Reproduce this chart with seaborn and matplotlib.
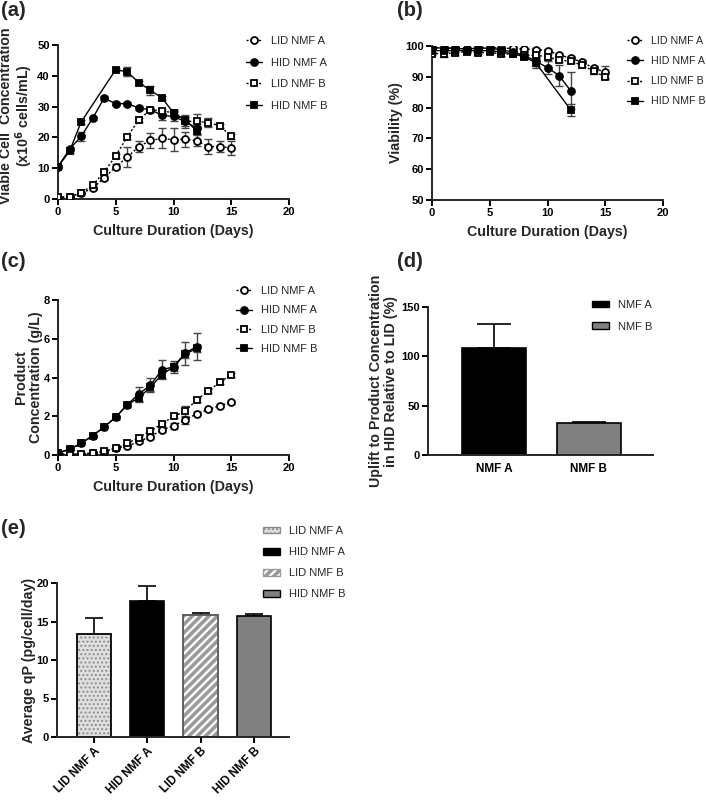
import numpy as np
import pandas as pd
import matplotlib
matplotlib.use("Agg")
import matplotlib.pyplot as plt
from matplotlib.patches import Patch, Rectangle
import seaborn as sns

# ---------------- data ----------------
days_lid = list(range(16))
days_hid = list(range(13))

# (a) viable cell concentration (x10^6 cells/mL)
vcc_lid_a = [0.3, 0.8, 1.8, 3.5, 6.8, 10.5, 13.6, 17.0, 19.0, 19.7, 19.2, 19.4, 18.9, 17.0, 17.0, 16.6]
vcc_lid_a_sd = [0.2, 0.2, 0.3, 0.5, 0.6, 0.8, 3.3, 1.8, 2.5, 3.3, 3.7, 2.5, 1.8, 2.5, 1.8, 2.3]
vcc_hid_a = [10.5, 16.2, 20.3, 26.2, 32.8, 30.9, 31.0, 29.5, 29.0, 27.2, 26.8, 25.2, 23.0]
vcc_hid_a_sd = [0.5, 0.6, 1.5, 0.5, 0.5, 0.5, 0.5, 0.6, 0.8, 1.5, 1.5, 1.5, 1.5]
vcc_lid_b = [0.5, 0.8, 2.0, 4.5, 8.8, 14.0, 20.2, 25.7, 29.0, 28.6, 28.0, 25.2, 25.2, 24.8, 23.8, 20.3]
vcc_lid_b_sd = [0.2, 0.2, 0.3, 0.5, 0.6, 0.6, 0.6, 0.6, 0.6, 0.6, 0.8, 2.0, 2.5, 1.5, 0.6, 0.8]
vcc_hid_b = [10.5, 15.5, 25.0, None, None, 42.0, 41.3, 37.8, 35.3, 32.8, 28.0, 25.7, 22.2]
vcc_hid_b_sd = [0.5, 0.6, 0.6, 0, 0, 0.6, 1.5, 0.6, 1.5, 0.6, 0.6, 0.8, 1.2]

# (b) viability (%)
via_lid_a = [99.5, 99.3, 99.3, 99.0, 99.5, 99.5, 99.3, 99.2, 99.0, 98.8, 98.5, 97.2, 96.0, 94.8, 92.8, 91.5]
via_lid_a_sd = [0.3, 0.4, 0.4, 0.3, 0.3, 0.3, 0.4, 0.4, 0.5, 0.5, 0.6, 0.6, 0.6, 0.6, 0.8, 2.0]
via_hid_a = [99.5, 99.3, 99.3, 99.0, 99.3, 99.3, 98.8, 98.0, 97.0, 95.0, 93.0, 90.4, 85.5]
via_hid_a_sd = [0.3, 0.4, 0.4, 0.3, 0.3, 0.3, 0.4, 0.5, 1.0, 1.5, 2.0, 3.5, 6.0]
via_lid_b = [97.5, 97.5, 97.8, 98.2, 97.8, 98.0, 97.3, 97.5, 97.0, 97.0, 96.5, 95.5, 95.0, 93.8, 91.8, 90.0]
via_lid_b_sd = [0.5, 1.0, 0.6, 0.4, 0.5, 0.4, 0.6, 0.5, 1.2, 0.6, 0.8, 0.6, 0.6, 0.6, 0.8, 0.8]
days_via_hid_b = [0, 1, 2, 3, 4, 5, 6, 7, 8, 9, 12]
via_hid_b = [98.5, 98.5, 98.5, 98.5, 98.5, 98.5, 98.0, 97.5, 96.5, 94.5, 79.3]
via_hid_b_sd = [0.4, 0.4, 0.4, 0.4, 0.4, 0.4, 0.4, 0.5, 0.8, 1.5, 2.0]

# (c) product concentration (g/L)
prod_lid_a = [0.05, 0.02, 0.03, 0.1, 0.18, 0.35, 0.45, 0.7, 0.95, 1.3, 1.5, 1.8, 2.13, 2.35, 2.55, 2.72]
prod_lid_a_sd = [0.02, 0.02, 0.02, 0.03, 0.03, 0.05, 0.05, 0.08, 0.1, 0.1, 0.15, 0.2, 0.08, 0.08, 0.08, 0.08]
prod_hid_a = [0.1, 0.3, 0.6, 1.0, 1.45, 1.95, 2.6, 3.15, 3.6, 4.4, 4.55, 5.25, 5.6]
prod_hid_a_sd = [0.03, 0.05, 0.05, 0.05, 0.05, 0.08, 0.1, 0.35, 0.35, 0.5, 0.3, 0.6, 0.7]
prod_lid_b = [0.05, 0.05, 0.05, 0.1, 0.2, 0.35, 0.6, 0.9, 1.25, 1.6, 2.0, 2.25, 2.85, 3.3, 3.75, 4.15]
prod_lid_b_sd = [0.02, 0.02, 0.02, 0.03, 0.03, 0.05, 0.05, 0.08, 0.1, 0.1, 0.1, 0.3, 0.1, 0.1, 0.1, 0.1]
prod_hid_b = [0.1, 0.3, 0.6, 1.0, 1.45, 1.95, 2.6, 2.95, 3.5, 4.15, 4.55, 5.2, 5.5]
prod_hid_b_sd = [0.03, 0.05, 0.05, 0.05, 0.05, 0.08, 0.1, 0.2, 0.2, 0.2, 0.2, 0.2, 0.2]

# (d) uplift (%)
uplift_groups = ["NMF A", "NMF B"]
uplift_vals = [108.5, 32.5]
uplift_sd = [24.0, 0.6]

# (e) average qP
qp_groups = ["LID NMF A", "HID NMF A", "LID NMF B", "HID NMF B"]
qp_vals = [13.4, 17.6, 15.85, 15.75]
qp_sd = [2.0, 2.0, 0.2, 0.2]

# ---------------- style ----------------
sns.set_theme(style="ticks")
plt.rcParams["font.family"] = ["Liberation Sans", "DejaVu Sans"]
plt.rcParams["font.weight"] = "bold"
plt.rcParams["axes.labelweight"] = "bold"
plt.rcParams["axes.linewidth"] = 1.4
plt.rcParams["xtick.major.width"] = 1.4
plt.rcParams["ytick.major.width"] = 1.4
plt.rcParams["xtick.major.size"] = 4
plt.rcParams["ytick.major.size"] = 4
plt.rcParams["hatch.linewidth"] = 1.0

TICKFS = 8
LABFS = 10.3
LEGFS = 8

W, H = 706, 801
fig = plt.figure(figsize=(W / 100, H / 100), dpi=100)


def rect(x0, x1, ytop, ybot):
    return [x0 / W, 1 - ybot / H, (x1 - x0) / W, (ybot - ytop) / H]


styles = {
    "LID NMF A": dict(marker="o", mfc="white", ls=(0, (1.5, 1.5))),
    "HID NMF A": dict(marker="o", mfc="black", ls="-"),
    "LID NMF B": dict(marker="s", mfc="white", ls=(0, (1.5, 1.5))),
    "HID NMF B": dict(marker="s", mfc="black", ls="-"),
}


def draw_series(ax, x, y, sd, name, ms=5.0):
    st = styles[name]
    df = pd.DataFrame({"x": x, "y": y, "sd": sd}).dropna()
    ax.errorbar(df["x"], df["y"], yerr=df["sd"], fmt="none", ecolor="#444444",
                elinewidth=1.0, capsize=3, capthick=1.0, zorder=2)
    sns.lineplot(data=df, x="x", y="y", ax=ax, color="black", linewidth=1.0,
                 linestyle=st["ls"], marker=st["marker"], markersize=ms,
                 markerfacecolor=st["mfc"], markeredgecolor="black",
                 markeredgewidth=1.3, label=name, zorder=3, sort=True)


def style_axes(ax, xr, yr=0.5):
    sns.despine(ax=ax)
    for lab in ax.get_xticklabels() + ax.get_yticklabels():
        lab.set_fontweight("bold")
    ax.tick_params(axis="both", labelsize=TICKFS, pad=2, colors="black")
    ax.yaxis.set_label_coords(xr, yr)


def line_legend(ax, x, y, spacing, fs=LEGFS):
    handles, labels = ax.get_legend_handles_labels()
    leg = ax.legend(handles, labels, loc="upper left", bbox_to_anchor=(x / W, 1 - y / H),
                    bbox_transform=fig.transFigure, frameon=False,
                    fontsize=fs, handlelength=1.45, handletextpad=0.8,
                    labelspacing=spacing, borderaxespad=0, borderpad=0)
    for t in leg.get_texts():
        t.set_fontweight("normal")
    return leg


def set_hlw(p, lw):
    if hasattr(p, "set_hatch_linewidth"):
        p.set_hatch_linewidth(lw)


# ---- (a)
ax_a = fig.add_axes(rect(58, 289, 45, 199))
draw_series(ax_a, days_lid, vcc_lid_a, vcc_lid_a_sd, "LID NMF A")
draw_series(ax_a, days_hid, vcc_hid_a, vcc_hid_a_sd, "HID NMF A")
draw_series(ax_a, days_lid, vcc_lid_b, vcc_lid_b_sd, "LID NMF B")
draw_series(ax_a, days_hid, vcc_hid_b, vcc_hid_b_sd, "HID NMF B")
ax_a.set_xlim(0, 20)
ax_a.set_ylim(0, 50)
ax_a.set_xticks([0, 5, 10, 15, 20])
ax_a.set_yticks([0, 10, 20, 30, 40, 50])
ax_a.set_xlabel("Culture Duration (Days)", fontsize=LABFS, fontweight="bold", labelpad=5)
ax_a.set_ylabel("Viable Cell  Concentration\n(x10$^{\\mathbf{6}}$ cells/mL)", fontsize=LABFS,
                fontweight="bold", linespacing=1.05)
style_axes(ax_a, (35 - 58) / 231, 0.54)
line_legend(ax_a, 246, 36, 1.05)

# ---- (b)
ax_b = fig.add_axes(rect(432, 663, 46, 200))
draw_series(ax_b, days_lid, via_lid_a, via_lid_a_sd, "LID NMF A")
draw_series(ax_b, days_hid, via_hid_a, via_hid_a_sd, "HID NMF A")
draw_series(ax_b, days_lid, via_lid_b, via_lid_b_sd, "LID NMF B")
draw_series(ax_b, days_via_hid_b, via_hid_b, via_hid_b_sd, "HID NMF B")
ax_b.set_xlim(0, 20)
ax_b.set_ylim(50, 100)
ax_b.set_xticks([0, 5, 10, 15, 20])
ax_b.set_yticks([50, 60, 70, 80, 90, 100])
ax_b.set_xlabel("Culture Duration (Days)", fontsize=LABFS, fontweight="bold", labelpad=5)
ax_b.set_ylabel("Viability (%)", fontsize=LABFS, fontweight="bold")
style_axes(ax_b, (403 - 432) / 231)
line_legend(ax_b, 627, 36, 0.95, fs=7.7)

# ---- (c)
ax_c = fig.add_axes(rect(58, 289, 300, 455))
draw_series(ax_c, days_lid, prod_lid_a, prod_lid_a_sd, "LID NMF A")
draw_series(ax_c, days_hid, prod_hid_a, prod_hid_a_sd, "HID NMF A")
draw_series(ax_c, days_lid, prod_lid_b, prod_lid_b_sd, "LID NMF B")
draw_series(ax_c, days_hid, prod_hid_b, prod_hid_b_sd, "HID NMF B")
ax_c.set_xlim(0, 20)
ax_c.set_ylim(0, 8)
ax_c.set_xticks([0, 5, 10, 15, 20])
ax_c.set_yticks([0, 2, 4, 6, 8])
ax_c.set_xlabel("Culture Duration (Days)", fontsize=LABFS, fontweight="bold", labelpad=5)
ax_c.set_ylabel("Product\nConcentration (g/L)", fontsize=LABFS, fontweight="bold",
                linespacing=1.05)
style_axes(ax_c, (43 - 58) / 231)
line_legend(ax_c, 236, 286, 0.85)

# ---- (d)
ax_d = fig.add_axes(rect(428, 653, 307, 455))
df_d = pd.DataFrame({"group": uplift_groups, "val": uplift_vals})
sns.barplot(data=df_d, x="group", y="val", hue="group", ax=ax_d,
            palette=["black", "#808080"], width=0.67, edgecolor="black",
            linewidth=1.2, legend=False, errorbar=None)
ax_d.errorbar(range(len(uplift_vals)), uplift_vals, yerr=[[0] * 2, uplift_sd],
              fmt="none", ecolor="black", elinewidth=1.2, capsize=12.5, capthick=1.2, zorder=0)
ax_d.set_ylim(0, 150)
ax_d.set_xlim(-0.695, 1.675)
ax_d.set_yticks([0, 50, 100, 150])
ax_d.set_xlabel("")
ax_d.set_ylabel("Uplift to Product Concentration\nin HID Relative to LID (%)",
                fontsize=LABFS, fontweight="bold", linespacing=1.05)
style_axes(ax_d, (398 - 428) / 225)
ax_d.tick_params(axis="x", length=0, pad=6, labelsize=8.5)
hd = [Patch(facecolor="black", edgecolor="black"), Patch(facecolor="#808080", edgecolor="black")]
leg = ax_d.legend(hd, uplift_groups, loc="upper left", bbox_to_anchor=(592 / W, 1 - 300 / H),
                  bbox_transform=fig.transFigure, frameon=False, fontsize=LEGFS,
                  handlelength=1.5, handleheight=0.55, handletextpad=0.8,
                  labelspacing=1.05, borderaxespad=0, borderpad=0)
for t in leg.get_texts():
    t.set_fontweight("normal")

# ---- (e)
ax_e = fig.add_axes(rect(57, 289, 583, 737))
df_e = pd.DataFrame({"group": qp_groups, "val": qp_vals})
e_colors = ["#dedede", "black", "white", "#808080"]
e_hatch = ["....", "", "////", ""]
e_hatch_col = ["#8a8a8a", "black", "#9a9a9a", "black"]
e_hatch_lw = [0.9, 1.0, 2.6, 1.0]
e_outline = ["black", "black", "#555555", "black"]
sns.barplot(data=df_e, x="group", y="val", hue="group", ax=ax_e,
            palette=e_colors, width=0.64, edgecolor="black", linewidth=1.2,
            legend=False, errorbar=None)
for p, h, hc, hl, oc in zip(list(ax_e.patches), e_hatch, e_hatch_col, e_hatch_lw, e_outline):
    if h:
        p.set_hatch(h)
        p.set_edgecolor(hc)
        set_hlw(p, hl)
        ax_e.add_patch(Rectangle(p.get_xy(), p.get_width(), p.get_height(), fill=False,
                                 edgecolor=oc, linewidth=1.2, zorder=p.get_zorder() + 0.1))
ax_e.errorbar(range(len(qp_vals)), qp_vals, yerr=[[0] * 4, qp_sd], fmt="none",
              ecolor="black", elinewidth=1.2, capsize=6.5, capthick=1.2, zorder=0)
ax_e.set_ylim(0, 20)
ax_e.set_xlim(-0.694, 3.66)
ax_e.set_yticks([0, 5, 10, 15, 20])
ax_e.set_xlabel("")
ax_e.set_ylabel("Average qP (pg/cell/day)", fontsize=LABFS, fontweight="bold")
style_axes(ax_e, (36 - 57) / 232)
ax_e.set_xticks(range(4))
ax_e.set_xticklabels(qp_groups, rotation=45, ha="right", rotation_mode="anchor",
                     fontsize=8.5, fontweight="bold")
he = []
for c, h, hc, hl in zip(e_colors, e_hatch, e_hatch_col, e_hatch_lw):
    pp = Patch(facecolor=c, edgecolor=hc if h else "black", hatch=h)
    set_hlw(pp, hl)
    he.append(pp)
leg = ax_e.legend(he, qp_groups, loc="upper left", bbox_to_anchor=(263 / W, 1 - 526 / H),
                  bbox_transform=fig.transFigure, frameon=False, fontsize=LEGFS,
                  handlelength=1.5, handleheight=0.55, handletextpad=0.8,
                  labelspacing=1.0, borderaxespad=0, borderpad=0)
for t in leg.get_texts():
    t.set_fontweight("normal")
for lp, hl in zip(leg.get_patches(), e_hatch_lw):
    set_hlw(lp, hl)

# ---- panel labels
for txt, x, y in [("(a)", 1, 1), ("(b)", 397, 1), ("(c)", 1, 252), ("(d)", 397, 252), ("(e)", 1, 519)]:
    fig.text(x / W, 1 - y / H, txt, fontsize=14.5, fontweight="bold", va="top", ha="left")

fig.savefig("out.png", dpi=100)
